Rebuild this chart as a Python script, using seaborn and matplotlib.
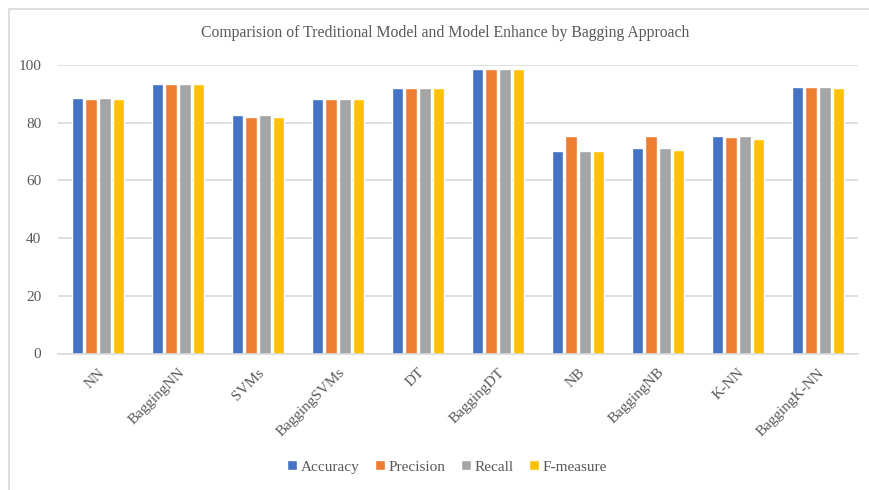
import matplotlib
matplotlib.use("Agg")
import matplotlib.pyplot as plt
import seaborn as sns
import pandas as pd
from matplotlib.patches import Rectangle

categories = ["NN", "BaggingNN", "SVMs", "BaggingSVMs", "DT", "BaggingDT",
              "NB", "BaggingNB", "K-NN", "BaggingK-NN"]
accuracy  = [88.6, 93.4, 82.7, 88.1, 92.0, 98.5, 70.1, 71.1, 75.4, 92.3]
precision = [88.3, 93.4, 82.1, 88.3, 92.0, 98.5, 75.4, 75.4, 75.0, 92.3]
recall    = [88.6, 93.4, 82.7, 88.1, 92.0, 98.5, 70.3, 71.1, 75.4, 92.3]
fmeasure  = [88.3, 93.4, 82.1, 88.1, 92.0, 98.5, 70.3, 70.6, 74.5, 91.9]
metrics = ["Accuracy", "Precision", "Recall", "F-measure"]
colors = ["#4472C4", "#ED7D31", "#A5A5A5", "#FFC000"]

rows = []
for m, vals in zip(metrics, [accuracy, precision, recall, fmeasure]):
    for c, v in zip(categories, vals):
        rows.append({"Model": c, "Metric": m, "Value": v})
df = pd.DataFrame(rows)

sns.set_theme(style="white")
plt.rcParams["font.family"] = ["Liberation Serif", "DejaVu Serif"]

fig = plt.figure(figsize=(8.69, 4.90), dpi=100)
W, H = 869, 490
ax = fig.add_axes([58 / W, 1 - 353.5 / H, 800 / W, 288.5 / H])

sns.barplot(data=df, x="Model", y="Value", hue="Metric", palette=colors,
            order=categories, hue_order=metrics, width=0.69, gap=0.18,
            ax=ax, saturation=1)

ax.set_ylim(0, 100)
ax.set_xlim(-0.5, len(categories) - 0.5)
ax.set_yticks([0, 20, 40, 60, 80, 100])
ax.yaxis.grid(True, color="#D9D9D9", linewidth=1.2)
ax.set_axisbelow(True)
for s in ["top", "right", "left"]:
    ax.spines[s].set_visible(False)
ax.spines["bottom"].set_color("#D9D9D9")
ax.spines["bottom"].set_linewidth(1.2)
ax.set_xlabel("")
ax.set_ylabel("")
ax.tick_params(axis="both", length=0, colors="#595959", labelsize=11)
ax.tick_params(axis="y", pad=12)
plt.setp(ax.get_xticklabels(), rotation=45, ha="right", rotation_mode="anchor")
ax.tick_params(axis="x", pad=9)
for lbl in ax.get_xticklabels():
    lbl.set_x(lbl.get_position()[0])

fig.text(445 / W, 1 - 33 / H, "Comparision of Treditional Model and Model Enhance by Bagging Approach",
         ha="center", va="center", fontsize=11.3, color="#595959")

handles, labels = ax.get_legend_handles_labels()
ax.legend_.remove()
fig.legend(handles, labels, loc="center", bbox_to_anchor=(447 / W, 1 - 467 / H),
           ncol=4, frameon=False, fontsize=11, handlelength=0.65, handleheight=0.65,
           handletextpad=0.25, columnspacing=1.0, labelcolor="#595959")

fig.patches.append(Rectangle((9 / W, -0.1), 1.2, 1.1 - 9 / H, transform=fig.transFigure,
                             fill=False, edgecolor="#D9D9D9", linewidth=1.2))

fig.savefig("out.png", dpi=100)
